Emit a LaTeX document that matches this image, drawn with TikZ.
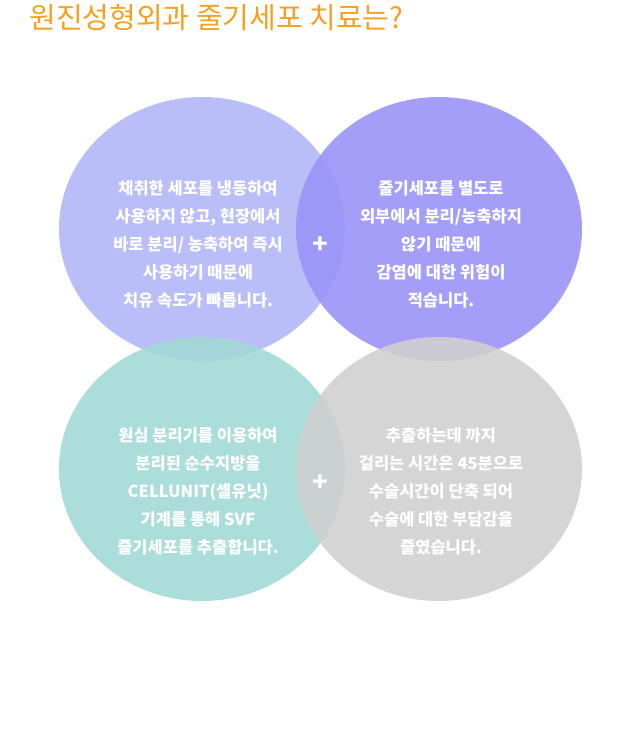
\documentclass[tikz,border=0pt]{standalone}
\usepackage{fontspec}
\setmainfont{Noto Sans CJK KR}
\usetikzlibrary{positioning}
\definecolor{titleorange}{HTML}{F5A01E}
\definecolor{lavender}{HTML}{B3B7F7}
\definecolor{violet}{HTML}{9A93F8}
\definecolor{teal}{HTML}{A2DAD7}
\definecolor{stone}{HTML}{D0D0D0}
\tikzset{
  bubble/.style={fill opacity=.9, draw=none},
  bubbletext/.style={text=white, font=\bfseries\fontsize{16.5}{28}\selectfont, align=center},
  plus/.style={text=white, font=\bfseries\fontsize{26}{26}\selectfont}
}

\begin{document}
\begin{tikzpicture}[x=1pt,y=-1pt]
\useasboundingbox (0,0) rectangle (640,754);
\node[anchor=west, text=titleorange, font=\fontsize{29}{29}\selectfont] (title) at (26,18) {원진성형외과 줄기세포 치료는?};
% four circles
\fill[lavender, bubble] (202,229) ellipse (143 and 132);
\fill[violet, bubble] (439,229) ellipse (143 and 132);
\fill[teal, bubble] (202,469) ellipse (143 and 132);
\fill[stone, bubble] (439,469) ellipse (143 and 132);
% texts
\node[bubbletext] (tl) at (198,244) {채취한 세포를 냉동하여\\사용하지 않고, 현장에서\\바로 분리/ 농축하여 즉시\\사용하기 때문에\\치유 속도가 빠릅니다.};
\node[bubbletext] (tr) at (441,244) {줄기세포를 별도로\\외부에서 분리/농축하지\\않기 때문에\\감염에 대한 위험이\\적습니다.};
\node[bubbletext] (bl) at (198,491) {원심 분리기를 이용하여\\분리된 순수지방을\\CELLUNIT(셀유닛)\\기계를 통해 SVF\\줄기세포를 추출합니다.};
\node[bubbletext] (br) at (441,491) {추출하는데 까지\\걸리는 시간은 45분으로\\수술시간이 단축 되어\\수술에 대한 부담감을\\줄였습니다.};
\node[plus] (p1) at (320,245) {+};
\node[plus] (p2) at (320,483) {+};
\end{tikzpicture}
\end{document}
